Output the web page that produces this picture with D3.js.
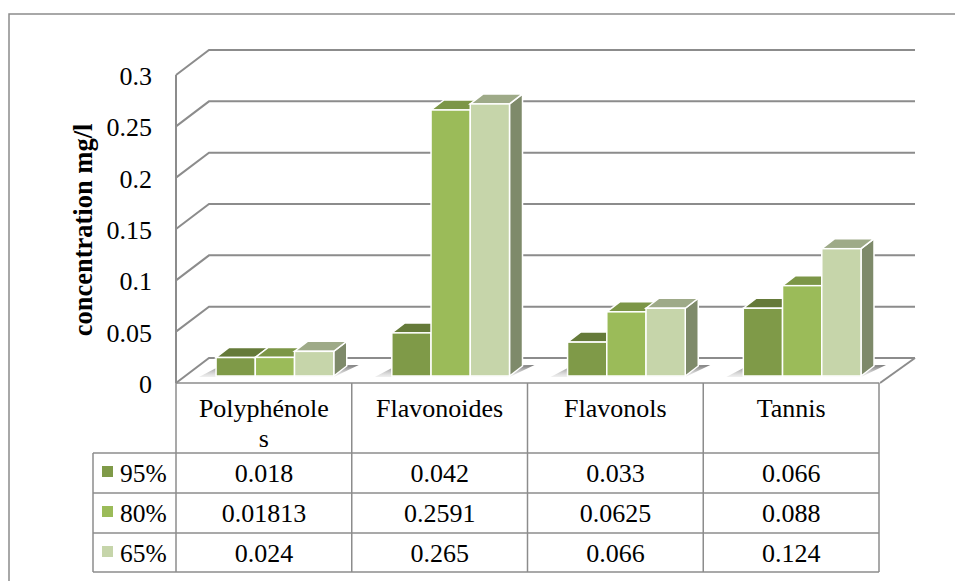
<!DOCTYPE html>
<html>
<head>
<meta charset="utf-8">
<script src="https://cdn.jsdelivr.net/npm/d3@7"></script>
<style>
body { margin: 0; background: #fff; }
text { font-family: "Liberation Serif", serif; fill: #000; }
</style>
</head>
<body>
<script>
var categories = ["Polyphénoles", "Flavonoides", "Flavonols", "Tannis"];
var seriesNames = ["95%", "80%", "65%"];
var v95 = [0.018, 0.042, 0.033, 0.066];
var v80 = [0.01813, 0.2591, 0.0625, 0.088];
var v65 = [0.024, 0.265, 0.066, 0.124];
var yTicks = [0, 0.05, 0.1, 0.15, 0.2, 0.25, 0.3];
var yTitle = "concentration mg/l";

var colors = ["#7f9a48", "#9bbb59", "#c6d5aa"];
var topColors = ["#657a39", "#7c9647", "#9eaa88"];
var sideColor = "#7e8a6a";
var gray = "#8c8c8c";

var width = 955, height = 581,
    left = 176, right = 879,
    dx = 33, dy = 25,      // wall depth
    bx = 13, by = 10,      // bar depth
    fontSize = "26px";

var values = [v95, v80, v65];

var svg = d3.select("body").append("svg")
  .attr("width", width)
  .attr("height", height)
  .style("display", "block");

var grad = svg.append("defs").append("linearGradient")
  .attr("id", "shadow")
  .attr("x1", 0).attr("x2", 0).attr("y1", 0).attr("y2", 1);
grad.append("stop").attr("offset", 0).attr("stop-color", "#777").attr("stop-opacity", 1);
grad.append("stop").attr("offset", 1).attr("stop-color", "#ccc").attr("stop-opacity", 0.3);

// chart border, only the top and left edges are in the picture
svg.append("path")
  .attr("d", d3.line()([[9, 581], [9, 14], [955, 14]]))
  .attr("fill", "none")
  .attr("stroke", gray)
  .attr("stroke-width", 1.5);

var x = d3.scaleBand().domain(categories).range([left, right]);
var inner = d3.scaleBand().domain(seriesNames)
  .range([0, x.bandwidth()])
  .paddingInner(0)
  .paddingOuter(0.74)
  .align(0.69);
var y = d3.scaleLinear().domain([0, 0.3]).range([383, 75]);

function barY(v) { return y(v) - 7; }

// grid on the walls
svg.append("g").selectAll("path")
  .data(yTicks)
  .enter()
  .append("path")
    .attr("fill", "none")
    .attr("stroke", gray)
    .attr("stroke-width", 2)
    .attr("d", function(d) {
      return d3.line()([[left, y(d)], [left + dx, y(d) - dy], [left + dx + 706, y(d) - dy]]);
    });

// front of the floor
svg.append("path")
  .attr("fill", "none")
  .attr("stroke", gray)
  .attr("stroke-width", 2)
  .attr("d", d3.line()([[left + dx + 706, y(0) - dy], [right + 1, y(0)]]));

// left axis line
svg.append("line")
  .attr("x1", left).attr("x2", left)
  .attr("y1", y(0.3)).attr("y2", y(0))
  .attr("stroke", gray)
  .attr("stroke-width", 2);

svg.append("g").selectAll("text")
  .data(yTicks)
  .enter()
  .append("text")
    .attr("x", 152)
    .attr("y", function(d) { return y(d) + 10; })
    .attr("text-anchor", "end")
    .style("font-size", fontSize)
    .text(function(d) { return d; });

svg.append("text")
  .attr("transform", "translate(92,230) rotate(-90)")
  .attr("text-anchor", "middle")
  .style("font-size", "26.5px")
  .style("font-weight", "bold")
  .text(yTitle);

// bars
categories.forEach(function(cat, c) {
  var g = svg.append("g");
  var x0 = x(cat) + inner(seriesNames[0]);
  var base = barY(0);
  var end = x0 + inner.bandwidth() * 3;

  // shadow on the floor
  g.append("path")
    .attr("fill", "url(#shadow)")
    .attr("d", d3.line()([[x0 + 2, base - 9], [end + bx + 12, base - by - 1], [end, base + 1], [x0 - 17, base + 1]]) + "Z");

  seriesNames.forEach(function(s, i) {
    var v = values[i][c],
        x1 = x(cat) + inner(s),
        x2 = x1 + inner.bandwidth(),
        top = barY(v);

    // right side only shows on the last bar of a group
    g.append("path")
      .attr("fill", sideColor)
      .attr("stroke", "#fff")
      .attr("stroke-width", 1.5)
      .attr("d", d3.line()([[x2, top], [x2 + bx, top - by], [x2 + bx, base - by], [x2, base]]) + "Z");
    g.append("path")
      .attr("fill", topColors[i])
      .attr("stroke", "#fff")
      .attr("stroke-width", 1.5)
      .attr("d", d3.line()([[x1, top], [x1 + bx, top - by], [x2 + bx, top - by], [x2, top]]) + "Z");
    g.append("rect")
      .attr("x", x1)
      .attr("y", top)
      .attr("width", inner.bandwidth())
      .attr("height", base - top)
      .attr("fill", colors[i])
      .attr("stroke", "#fff")
      .attr("stroke-width", 1.5);
  });
});

// data table
var rowY = [383, 453, 493, 533, 572],
    tableLeft = 93;

var table = svg.append("g")
  .attr("stroke", gray)
  .attr("stroke-width", 1.5);

table.selectAll("line.h")
  .data(rowY)
  .enter()
  .append("line")
    .attr("x1", function(d, i) { return i === 0 ? left : tableLeft; })
    .attr("x2", right)
    .attr("y1", function(d) { return d; })
    .attr("y2", function(d) { return d; });

table.selectAll("line.v")
  .data(categories.map(function(d) { return x(d); }).concat(right))
  .enter()
  .append("line")
    .attr("x1", function(d) { return d; })
    .attr("x2", function(d) { return d; })
    .attr("y1", rowY[0])
    .attr("y2", rowY[4]);

table.append("line")
  .attr("x1", tableLeft).attr("x2", tableLeft)
  .attr("y1", rowY[1]).attr("y2", rowY[4]);

// category headers, the first one wraps like in the cell
categories.forEach(function(cat) {
  var cx = x(cat) + x.bandwidth() / 2;
  var lines = cat.length > 11 ? [cat.slice(0, -1), cat.slice(-1)] : [cat];
  lines.forEach(function(l, i) {
    svg.append("text")
      .attr("x", cx)
      .attr("y", 417 + i * 30)
      .attr("text-anchor", "middle")
      .style("font-size", fontSize)
      .text(l);
  });
});

seriesNames.forEach(function(s, i) {
  var ty = rowY[i + 1] + 29;
  svg.append("rect")
    .attr("x", 102)
    .attr("y", rowY[i + 1] + 13)
    .attr("width", 11)
    .attr("height", 11)
    .attr("fill", colors[i]);
  svg.append("text")
    .attr("x", 120)
    .attr("y", ty)
    .style("font-size", "25.5px")
    .text(s);
  categories.forEach(function(cat, c) {
    svg.append("text")
      .attr("x", x(cat) + x.bandwidth() / 2)
      .attr("y", ty)
      .attr("text-anchor", "middle")
      .style("font-size", fontSize)
      .text(values[i][c]);
  });
});
</script>
</body>
</html>
